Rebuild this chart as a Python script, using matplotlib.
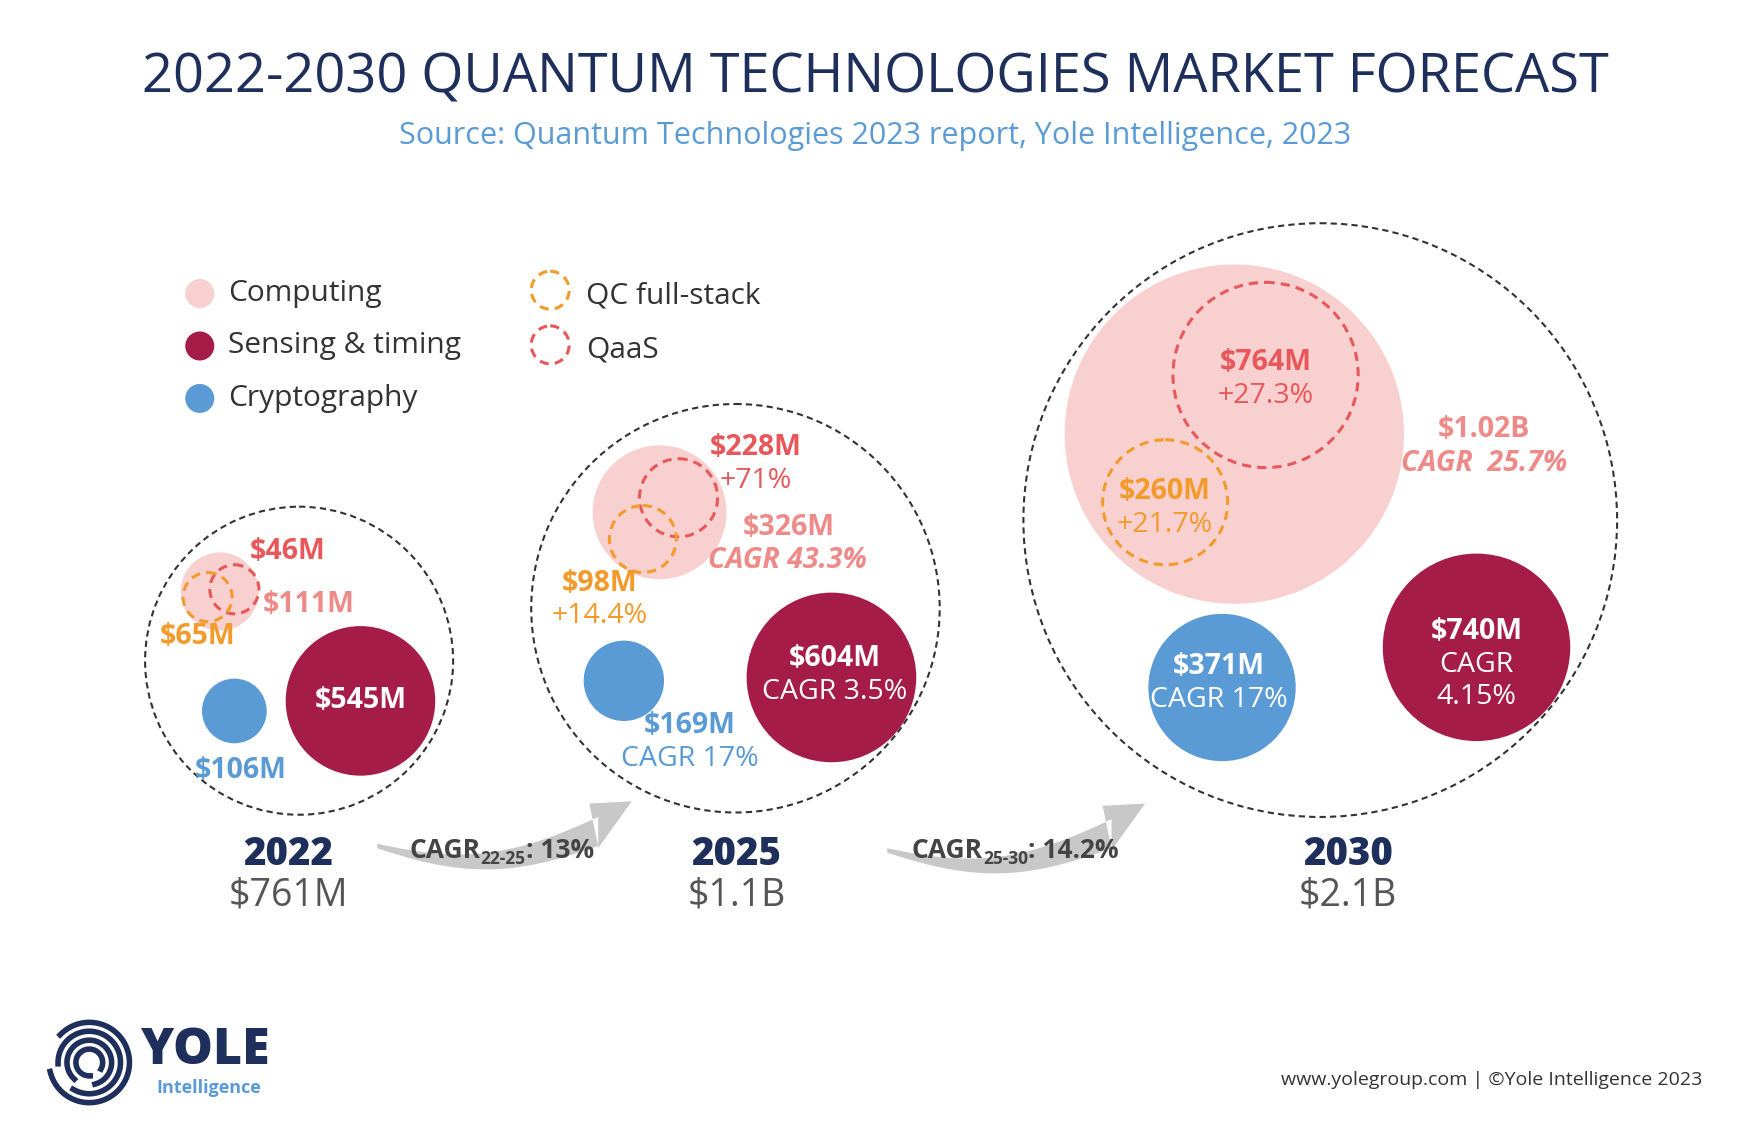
import matplotlib.pyplot as plt
from matplotlib.patches import Circle, Polygon
import numpy as np

plt.rcParams['font.family'] = ['Open Sans', 'DejaVu Sans']

years = ['2022', '2025', '2030']
totals = ['$761M', '$1.1B', '$2.1B']
computing = ['$111M', '$326M', '$1.02B']
sensing = ['$545M', '$604M', '$740M']
crypto = ['$106M', '$169M', '$371M']
qc_fullstack = ['$65M', '$98M', '$260M']
qaas = ['$46M', '$228M', '$764M']
cagr_comp = ['', 'CAGR 43.3%', 'CAGR  25.7%']
cagr_sens = ['', 'CAGR 3.5%', 'CAGR\n4.15%']
cagr_crypto = ['', 'CAGR 17%', 'CAGR 17%']
growth_qc = ['', '+14.4%', '+21.7%']
growth_qaas = ['', '+71%', '+27.3%']
period_cagr = [('22-25', '13%'), ('25-30', '14.2%')]

NAVY = '#1f2f5c'
PINK = '#f7d0cf'
RED = '#a61c48'
BLUE = '#5b9bd5'
ORANGE = '#f39a2b'
SALMON = '#e8585a'
LSAL = '#ee8a88'
GRAY = '#555555'

fig = plt.figure(figsize=(17.41, 11.25), dpi=100)
ax = fig.add_axes([0, 0, 1, 1])
ax.set_xlim(0, 1560)
ax.set_ylim(1008, 0)
ax.axis('off')

def circ(x, y, r, fc='none', ec='none', ls='-', lw=2.2):
    ax.add_patch(Circle((x, y), r, facecolor=fc, edgecolor=ec, linestyle=ls, lw=lw))

def txt(x, y, s, c, fs=20.5, w='bold', ha='center', st='normal', **kw):
    ax.text(x, y, s, color=c, fontsize=fs, fontweight=w, ha=ha, va='center', style=st, **kw)

txt(784, 70, '2022-2030 QUANTUM TECHNOLOGIES MARKET FORECAST', NAVY, fs=39, w='normal')
txt(784, 122, 'Source: Quantum Technologies 2023 report, Yole Intelligence, 2023', BLUE, fs=22, w='normal')

# layout per year: outer, computing, qaas, qc, sensing, crypto (x, y, r)
layout = [
    dict(outer=(268, 592, 138), comp=(197, 530, 35), qaas=(210, 528, 22), qc=(186, 535, 22),
         sens=(323, 628, 67), cry=(210, 637, 29)),
    dict(outer=(659, 545, 183), comp=(591, 459, 60), qaas=(608, 446, 35), qc=(576, 483, 30),
         sens=(745, 607, 76), cry=(559, 610, 36)),
    dict(outer=(1183, 466, 266), comp=(1106, 389, 152), qaas=(1134, 336, 83), qc=(1044, 450, 56),
         sens=(1323, 580, 84), cry=(1095, 616, 66)),
]
for L in layout:
    circ(*L['outer'], ec='#333333', ls=(0, (3, 2)), lw=1.5)
    circ(*L['comp'], fc=PINK)
    circ(*L['qaas'], ec=SALMON, ls=(0, (3, 2)))
    circ(*L['qc'], ec=ORANGE, ls=(0, (3, 2)))
    circ(*L['sens'], fc=RED)
    circ(*L['cry'], fc=BLUE)

# 2022 labels
txt(258, 494, qaas[0], SALMON)
txt(277, 542, computing[0], LSAL)
txt(177, 570, qc_fullstack[0], ORANGE)
txt(323, 628, sensing[0], 'white')
txt(216, 690, crypto[0], BLUE)
# 2025 labels
txt(677, 401, qaas[1], SALMON)
txt(677, 431, growth_qaas[1], SALMON, w='normal')
txt(707, 473, computing[1], LSAL)
txt(706, 502, cagr_comp[1], LSAL, st='italic')
txt(537, 523, qc_fullstack[1], ORANGE)
txt(537, 552, growth_qc[1], ORANGE, w='normal')
txt(748, 590, sensing[1], 'white')
txt(748, 620, cagr_sens[1], 'white', w='normal')
txt(618, 650, crypto[1], BLUE)
txt(618, 680, cagr_crypto[1], BLUE, w='normal')
# 2030 labels
txt(1134, 325, qaas[2], SALMON)
txt(1134, 355, growth_qaas[2], SALMON, w='normal')
txt(1330, 385, computing[2], LSAL)
txt(1330, 415, cagr_comp[2], LSAL, st='italic')
txt(1044, 440, qc_fullstack[2], ORANGE)
txt(1044, 470, growth_qc[2], ORANGE, w='normal')
txt(1323, 566, sensing[2], 'white')
txt(1323, 610, cagr_sens[2], 'white', w='normal', linespacing=1.2)
txt(1092, 597, crypto[2], 'white')
txt(1092, 627, cagr_crypto[2], 'white', w='normal')

# year totals
for x, yr, tot in zip([258, 660, 1208], years, totals):
    txt(x, 766, yr, NAVY, fs=27.5, w='heavy')
    txt(x, 802, tot, GRAY, fs=27, w='normal')

# curved arrows
def arrow(x0, y0, x1, y1):
    t = np.linspace(0, 1, 40)
    xs = x0 + (x1 - 30 - x0) * t
    ys = y0 + 15 * np.sin(np.pi * t) + (y1 + 18 - y0) * t ** 2
    top = np.column_stack([xs, ys - 4 * t])
    bot = np.column_stack([xs, ys + 4 + 18 * t])[::-1]
    tip = np.array([[x1 - 30, y1 + 42], [x1, y1], [x1 - 38, y1 + 2]])
    ax.add_patch(Polygon(np.vstack([top, tip, bot]), closed=True, fc='#c8c8c8', ec='none'))

arrow(338, 756, 566, 718)
arrow(795, 760, 1026, 720)
for x, (sub, val) in zip([367, 817], period_cagr):
    t1 = ax.text(x, 762, 'CAGR', color='#444444', fontsize=19, fontweight='bold', ha='left', va='center')
    fig.canvas.draw()
    bb = t1.get_window_extent().transformed(ax.transData.inverted())
    t2 = ax.text(bb.x1, 770, sub, color='#444444', fontsize=12.5, fontweight='bold', ha='left', va='center')
    fig.canvas.draw()
    bb = t2.get_window_extent().transformed(ax.transData.inverted())
    ax.text(bb.x1, 762, ': ' + val, color='#444444', fontsize=19, fontweight='bold', ha='left', va='center')

# legend
for y, lab, c in zip([263, 310, 357], ['Computing', 'Sensing & timing', 'Cryptography'], [PINK, RED, BLUE]):
    circ(179, y, 13, fc=c)
    txt(204, y, lab, '#333333', fs=21.5, w='normal', ha='left')
for y, lab, c in zip([260, 309], ['QC full-stack', 'QaaS'], [ORANGE, SALMON]):
    circ(493, y, 17, ec=c, ls=(0, (3, 2)))
    txt(525, y + 5, lab, '#333333', fs=21.5, w='normal', ha='left')

# logo
for r in [36, 28, 20, 12]:
    th = np.linspace(0.3, 5.6, 60) + r * 0.1
    ax.plot(80 + r * np.cos(th), 952 + r * np.sin(th), color=NAVY, lw=4)
txt(126, 942, 'YOLE', NAVY, fs=36, w='heavy', ha='left')
txt(140, 975, 'Intelligence', BLUE, fs=13, w='bold', ha='left')
txt(1525, 968, 'www.yolegroup.com | ©Yole Intelligence 2023', '#333333', fs=14, w='normal', ha='right')

fig.savefig('out.png', dpi=100, facecolor='white')
